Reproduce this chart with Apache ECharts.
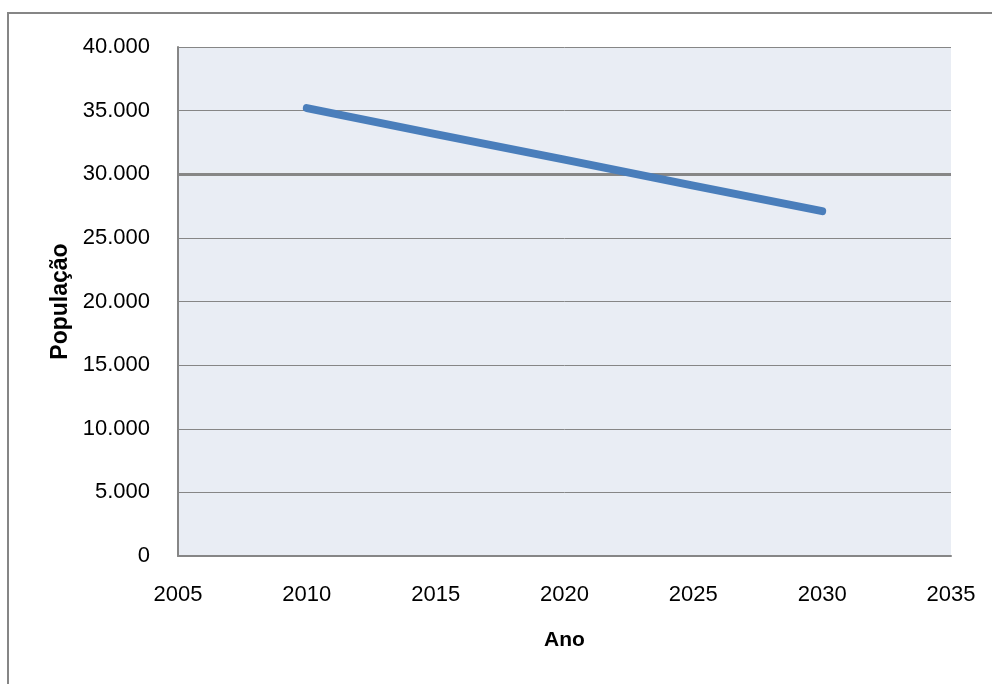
<!DOCTYPE html>
<html>
<head>
<meta charset="utf-8">
<script src="https://cdn.jsdelivr.net/npm/echarts@6/dist/echarts.min.js"></script>
<style>
html,body{margin:0;padding:0;background:#fff;}
#chart{width:992px;height:684px;}
</style>
</head>
<body>
<div id="chart"></div>
<script>
var years = [2010, 2015, 2020, 2025, 2030];
var population = [35200, 33150, 31150, 29100, 27100];
var xTicks = [2005, 2010, 2015, 2020, 2025, 2030, 2035];
var yTicks = [0, 5000, 10000, 15000, 20000, 25000, 30000, 35000, 40000];

var chart = echarts.init(document.getElementById('chart'));
var tickFont = "'Liberation Sans', sans-serif";
function fmtThousands(v) {
  return String(v).replace(/\B(?=(\d{3})+(?!\d))/g, '.');
}
chart.setOption({
  animation: false,
  backgroundColor: '#ffffff',
  graphic: [{
    type: 'rect',
    shape: { x: 8, y: 13, width: 1000, height: 700 },
    style: { fill: 'none', stroke: '#868686', lineWidth: 2 },
    silent: true, z: -10
  }],
  grid: {
    left: 178, top: 47, right: 41, bottom: 128,
    show: true, backgroundColor: '#e9edf4', borderWidth: 0
  },
  xAxis: {
    type: 'value',
    min: xTicks[0], max: xTicks[xTicks.length - 1], interval: 5,
    name: 'Ano', nameLocation: 'middle', nameGap: 74,
    nameTextStyle: { fontFamily: 'Liberation Sans', fontWeight: 'bold', fontSize: 21, color: '#000', verticalAlign: 'top' },
    axisLine: { show: true, lineStyle: { color: '#868686', width: 2 } },
    axisTick: { show: false },
    splitLine: { show: false },
    axisLabel: { fontFamily: tickFont, fontSize: 22, color: '#000', margin: 28, formatter: function (v) { return String(v); } }
  },
  yAxis: {
    type: 'value',
    min: yTicks[0], max: yTicks[yTicks.length - 1], interval: 5000,
    name: 'População', nameLocation: 'middle', nameGap: 89,
    nameTextStyle: { fontFamily: 'Liberation Sans', fontWeight: 'bold', fontSize: 23, color: '#000' },
    axisLine: { show: true, lineStyle: { color: '#868686', width: 2 } },
    axisTick: { show: false },
    splitLine: { show: true, lineStyle: { color: '#868686', width: 1 } },
    axisLabel: { fontFamily: tickFont, fontSize: 22, color: '#000', margin: 28, formatter: fmtThousands }
  },
  series: [{
    type: 'line',
    z: 1,
    data: [],
    markLine: {
      silent: true, symbol: 'none', label: { show: false },
      lineStyle: { color: '#868686', width: 3, type: 'solid' },
      data: [{ yAxis: 30000 }]
    }
  }, {
    type: 'line',
    z: 5,
    data: years.map(function (y, i) { return [y, population[i]]; }),
    showSymbol: false,
    lineStyle: { color: '#4a7ebb', width: 8, cap: 'round', join: 'round' },
    itemStyle: { color: '#4a7ebb' }
  }]
});
</script>
</body>
</html>
